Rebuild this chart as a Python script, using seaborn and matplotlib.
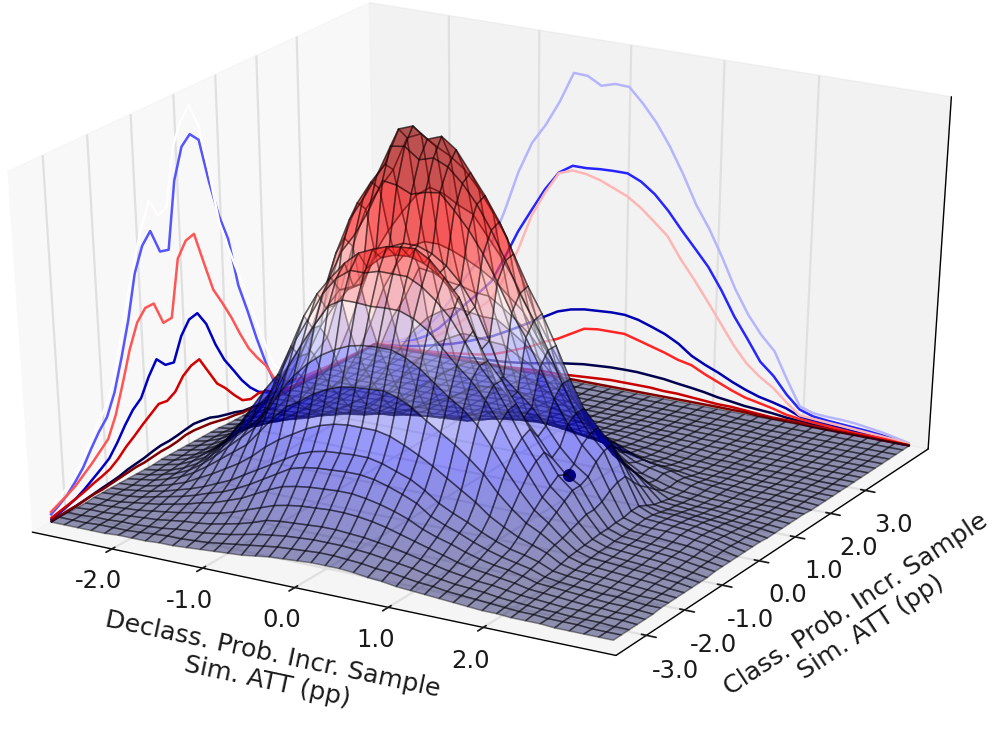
# 3D density surface with section lines projected on the two back walls
import numpy as np
import matplotlib
matplotlib.use('Agg')
import matplotlib.pyplot as plt
import seaborn as sns

# Grid limits of the surface
x_start, x_stop = -2.89, 3.17
y_start, y_stop = -3.35, 4.85

# Axis limits and ticks
x_limits = [-2.89, 3.37]
y_limits = [-3.78, 4.85]
z_limits = [0, 345]
x_ticks = [-2.0, -1.0, 0.0, 1.0, 2.0]
y_ticks = [-3.0, -2.0, -1.0, 0.0, 1.0, 2.0, 3.0]

# Levels of the sections drawn on the walls
x_levels = [-2.4, -1.6, -0.8, 0.0, 0.8, 1.6, 2.4]
y_levels = [-3, -2, -1, 0, 1, 2, 3, 4]

# Marked point
point_x = [1.5]
point_y = [-0.4]
point_z = [60]

# Surface heights, one row per x, one column per y
heights = [
    [0,0,0,0,0,1,1,1,1,1, 1,1,1,2,2,2,2,2,2,2, 2,1,1,1,1,1,1,0,0,0, 0,0,0,0,0,0,0,0,0,0,0],
    [0,0,0,1,1,1,2,2,2,3, 3,3,4,4,4,5,5,5,5,5, 4,4,3,2,2,2,1,1,1,1, 0,0,0,0,0,0,0,0,0,0,0],
    [0,0,1,1,2,2,3,4,4,5, 6,6,7,8,8,8,9,10,10,9, 8,6,5,4,3,2,2,1,1,1, 1,0,0,0,0,0,0,0,0,0,0],
    [0,1,1,2,3,4,5,6,7,9, 10,11,13,14,14,15,16,17,16,15, 12,10,8,5,4,3,2,2,1,1, 1,1,0,0,0,0,0,0,0,0,0],
    [0,1,2,3,4,6,8,9,11,14, 16,18,20,23,23,24,27,29,27,24, 19,15,12,8,6,4,3,2,2,1, 1,1,1,0,0,0,0,0,0,0,0],
    [1,1,2,4,6,8,11,13,16,21, 25,28,32,36,36,38,42,46,44,38, 30,24,18,12,9,6,4,3,2,2, 1,1,1,1,0,0,0,0,0,0,0],
    [1,2,3,5,8,11,14,17,23,30, 36,41,48,54,54,56,62,68,65,56, 44,34,26,18,13,9,6,4,3,2, 2,1,1,1,1,0,0,0,0,0,0],
    [1,3,4,7,10,14,18,22,30,40, 48,54,66,74,72,72,84,92,90,78, 60,47,36,26,18,12,8,5,3,2, 2,2,1,1,1,1,0,0,0,0,0],
    [2,4,6,9,13,18,23,28,38,50, 60,66,82,94,86,84,104,114,116,102, 78,60,47,33,22,14,10,6,3,2, 2,1,1,1,1,0,0,0,0,0,0],
    [2,4,7,10,15,21,27,34,46,60, 72,80,98,112,100,98,122,136,138,122, 96,74,58,42,29,19,13,7,4,3, 2,2,1,1,1,1,1,0,0,0,0],
    [3,5,8,12,18,26,33,42,56,76, 92,106,126,142,128,126,156,176,184,168, 130,100,78,60,42,28,18,10,6,4, 3,2,2,2,1,1,1,0,0,0,0],
    [4,6,10,15,22,31,40,50,68,92, 114,134,156,174,158,156,196,218,228,216, 170,132,102,80,58,38,24,12,7,5, 4,3,3,2,2,1,1,1,0,0,0],
    [5,8,12,18,27,38,48,58,78,106, 132,158,180,198,180,178,226,252,264,254, 208,170,136,102,76,50,30,14,8,6, 5,4,3,3,2,2,1,1,0,0,0],
    [6,10,15,22,32,45,56,66,86,114, 146,180,205,216,200,196,245,274,286,276, 232,196,160,122,92,62,38,16,9,7, 6,5,4,3,3,2,2,1,1,0,0],
    [7,12,18,27,37,51,64,74,94,124, 157,200,222,232,206,204,270,298,305,296, 252,215,190,137,107,74,44,18,10,8, 6,5,4,3,3,2,2,1,1,0,0],
    [9,14,20,29,40,54,68,79,100,131, 165,208,232,244,226,232,300,328,340,328, 270,222,188,146,115,82,52,24,14,10, 8,6,5,4,3,3,2,2,1,1,0],
    [11,16,22,30,42,56,70,82,104,136, 171,208,232,250,238,244,298,330,345,334, 280,222,182,152,122,90,60,30,18,13, 10,7,6,5,4,3,2,2,1,1,0],
    [12,17,23,31,43,57,71,83,106,138, 174,207,236,255,243,250,292,320,335,325, 276,218,180,150,121,91,62,32,20,15, 11,8,6,5,4,3,2,2,1,1,0],
    [13,18,24,32,44,58,72,84,106,139, 175,208,236,257,244,250,296,324,340,318, 268,212,176,148,119,90,62,34,22,16, 12,9,7,5,4,3,2,2,1,1,0],
    [14,19,24,32,44,58,72,84,106,140, 175,208,236,258,240,245,298,318,330,308, 262,205,175,148,118,90,62,36,24,17, 12,9,7,5,4,3,2,2,1,1,0],
    [14,19,24,31,43,56,70,81,103,136, 170,203,229,250,232,236,284,305,311,292, 244,196,166,139,110,84,58,34,23,16, 12,9,7,5,4,3,2,2,1,1,0],
    [14,18,23,30,41,53,66,76,97,129, 162,194,218,236,218,222,268,288,292,272, 226,184,156,129,102,78,54,31,21,15, 11,9,7,5,4,3,2,2,1,1,0],
    [13,17,22,28,38,49,61,71,90,119, 151,180,204,220,198,202,248,266,270,250, 205,172,144,118,92,70,50,28,19,13, 10,8,6,5,4,3,2,2,1,1,0],
    [11,15,20,26,34,44,55,63,82,110, 140,166,184,190,168,172,224,240,242,216, 178,150,128,104,82,62,45,25,17,12, 9,8,6,5,4,3,2,2,1,1,0],
    [10,14,18,23,30,37,45,53,73,101, 131,154,164,164,140,140,197,211,214,182, 150,132,112,90,70,55,42,23,15,11, 8,7,6,5,4,3,2,2,1,1,0],
    [8,12,16,20,26,32,39,46,64,90, 118,138,148,148,126,128,176,188,190,158, 128,112,96,76,58,46,35,19,12,9, 7,6,5,4,3,3,2,2,1,1,0],
    [7,10,13,17,22,28,34,40,55,78, 100,118,126,128,110,116,150,162,162,134, 106,92,78,62,46,36,29,16,10,8, 6,5,5,4,3,3,2,1,1,1,0],
    [6,9,11,14,18,23,28,33,44,62, 80,94,102,106,94,100,122,132,132,108, 86,72,58,46,34,27,23,13,8,6, 5,5,4,3,3,2,2,1,1,1,0],
    [5,7,9,12,15,19,23,27,36,49, 62,74,82,86,76,82,100,106,106,86, 68,55,44,33,24,20,18,10,7,5, 4,4,3,3,2,2,2,1,1,0,0],
    [4,6,8,10,13,16,19,22,29,38, 46,54,60,66,62,68,82,88,90,72, 54,44,32,22,16,17,15,9,6,4, 3,3,3,2,2,2,1,1,1,0,0],
    [3,5,7,9,11,14,16,19,24,31, 36,42,48,54,54,58,68,74,76,60, 44,35,24,14,12,14,12,7,5,3, 3,2,2,2,2,1,1,1,0,0,0],
    [2,4,5,7,9,11,13,15,19,22, 24,27,30,33,33,36,42,46,47,37, 28,22,15,9,8,9,8,5,3,3, 2,2,2,2,1,1,1,0,0,0,0],
    [2,3,4,5,6,7,8,9,11,13, 14,15,16,17,17,18,18,20,20,16, 12,10,8,7,6,7,6,4,3,2, 2,2,1,1,1,1,1,0,0,0,0],
    [1,2,3,4,5,6,6,7,8,9, 10,11,11,12,12,13,14,15,14,12, 10,9,7,6,5,5,5,3,3,2, 2,1,1,1,1,1,0,0,0,0,0],
    [1,2,2,3,4,5,5,6,7,8, 9,9,10,11,11,12,13,14,13,12, 10,8,6,5,4,4,4,3,2,2, 1,1,1,1,1,0,0,0,0,0,0],
    [1,1,2,2,3,4,4,5,6,7, 8,8,9,10,10,11,13,13,12,11, 9,7,6,4,4,3,3,2,2,1, 1,1,1,1,0,0,0,0,0,0,0],
    [0,1,1,2,2,3,3,4,5,6, 7,7,8,9,9,10,12,12,11,10, 8,6,5,4,3,3,2,2,2,1, 1,1,1,0,0,0,0,0,0,0,0],
    [0,1,1,1,2,2,3,3,4,5, 6,6,7,8,8,9,10,10,9,8, 7,5,4,3,3,2,2,2,1,1, 1,1,0,0,0,0,0,0,0,0,0],
    [0,0,1,1,1,2,2,2,3,4, 4,5,5,6,6,7,8,8,7,6, 5,4,3,3,2,2,2,1,1,1, 1,0,0,0,0,0,0,0,0,0,0],
    [0,0,0,1,1,1,1,2,2,2, 3,3,3,4,4,4,5,5,4,4, 3,3,2,2,1,1,1,1,1,0, 0,0,0,0,0,0,0,0,0,0,0],
    [0,0,0,0,0,0,1,1,1,1, 1,1,1,2,2,2,2,2,2,2, 1,1,1,1,1,1,0,0,0,0, 0,0,0,0,0,0,0,0,0,0,0],
]

sns.set_theme(style='white', rc={'grid.color': '0.88', 'grid.linewidth': 1.6,
                                 'axes.edgecolor': 'black', 'axes.linewidth': 1.0,
                                 'xtick.color': '0.1', 'ytick.color': '0.1',
                                 'text.color': '0.1', 'axes.labelcolor': '0.1'})
plt.rcParams['font.family'] = ['DejaVu Sans']

Z = np.array(heights, dtype=float).T
X, Y = np.meshgrid(np.linspace(x_start, x_stop, Z.shape[1]),
                   np.linspace(y_start, y_stop, Z.shape[0]))

fig = plt.figure(figsize=(9.97, 7.29), dpi=100)
ax = fig.add_axes([0.474 - 1.133 / 2, 0.5526 - 0.997 / 2, 1.133, 0.997], projection='3d')
# Let the 3D box stretch to the non square axes, like old matplotlib did
ax.apply_aspect = lambda position=None: None
ax.view_init(elev=30, azim=-60)
ax.set_box_aspect((1, 1, 0.95), zoom=0.985)

# Surface with black mesh
ax.plot_surface(X, Y, Z, rstride=1, cstride=1, cmap='seismic', vmin=0, vmax=345,
                alpha=0.42, edgecolor='black', linewidth=1.1, antialiased=True)

# Sections projected on the left and right walls
ax.contour(X, Y, Z, zdir='x', levels=x_levels, offset=x_limits[0], cmap='seismic',
           vmin=x_levels[0], vmax=x_levels[-1], linewidths=1.8)
ax.contour(X, Y, Z, zdir='y', levels=y_levels, offset=y_limits[1], cmap='seismic',
           vmin=y_levels[0], vmax=y_levels[-1], linewidths=1.8)

ax.scatter(point_x, point_y, point_z, color='#000050', s=70, depthshade=False)

ax.set_xlim(x_limits)
ax.set_ylim(y_limits)
ax.set_zlim(z_limits)
ax.set_xticks(x_ticks)
ax.set_yticks(y_ticks)
ax.set_zticks([])
ax.set_xticklabels(['%.1f' % t for t in x_ticks], fontsize=17.5)
ax.set_yticklabels(['%.1f' % t for t in y_ticks], fontsize=17.5)
ax.set_xlabel('Declass. Prob. Incr. Sample\nSim. ATT (pp)', fontsize=18.2, labelpad=26)
ax.set_ylabel('Class. Prob. Incr. Sample\nSim. ATT (pp)', fontsize=18.2, labelpad=30)
ax.tick_params(axis='x', pad=5)
ax.tick_params(axis='y', pad=9)

fig.savefig('out.png', dpi=100)
